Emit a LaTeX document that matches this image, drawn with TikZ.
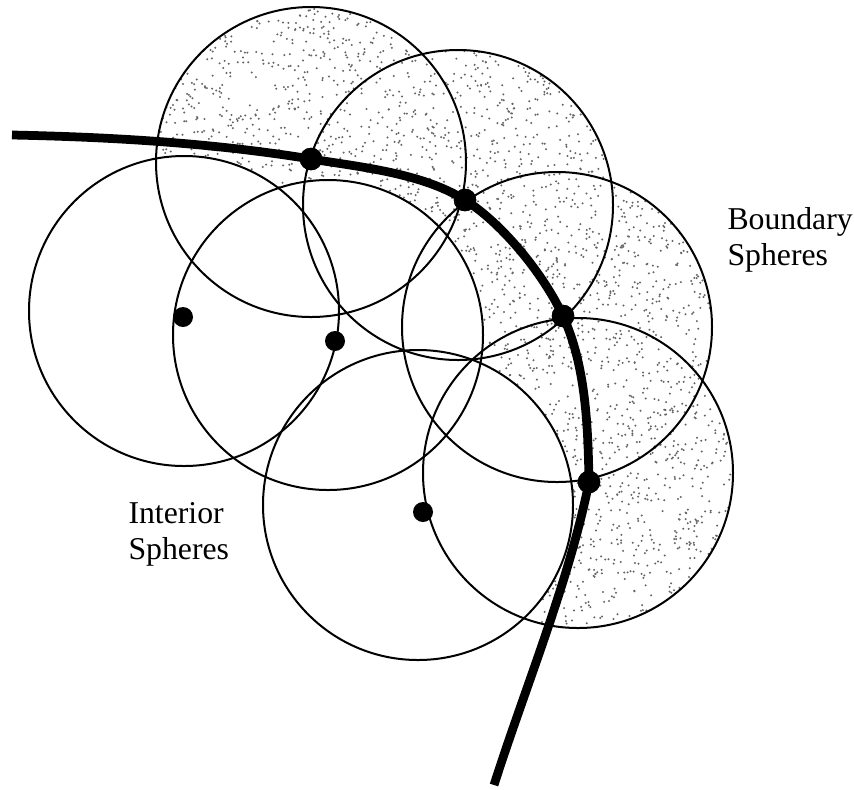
\documentclass[tikz,border=0pt]{standalone}
\usepackage{fontspec}
\setmainfont{Liberation Serif}
\usetikzlibrary{positioning}

\begin{document}
\begin{tikzpicture}[x=0.4pt,y=-0.4pt,
		sphere/.style={draw=black, line width=0.8pt},
		speck/.style={fill=black!60},
		ishade/.style={fill=white},
		centre/.style={circle, fill=black, inner sep=0pt, minimum size=8pt},
		bcentre/.style={centre, minimum size=9pt},
		surface/.style={line width=3.5pt},
		tag/.style={align=left, inner sep=0pt, font=\fontsize{12.7}{14.4}\selectfont}
	]
		\useasboundingbox (0,0) rectangle (854,789);
		% centres of the drawn spheres
		\coordinate (c1) at (311,162);
		\coordinate (c2) at (458,205);
		\coordinate (c3) at (557,327);
		\coordinate (c4) at (578,473);
		\coordinate (ca) at (184,311);
		\coordinate (cb) at (328,335);
		\coordinate (cc) at (418,505);
		% stippled boundary region
		\begin{scope}
			\clip (c1) circle[radius=62pt] (c2) circle[radius=62pt]
				(c3) circle[radius=62pt] (c4) circle[radius=62pt];
			\pgfmathsetseed{4711}
			\foreach \i in {1,...,5000} {
				\fill[speck] (445+290*rand,318+312*rand) circle[radius=0.45pt];
			}
		\end{scope}
		\fill[ishade] (ca) circle[radius=62pt] (cb) circle[radius=62pt]
			(cc) circle[radius=62pt];
		% outlines
		\draw[sphere] (c1) circle[radius=62pt];
		\draw[sphere] (c2) circle[radius=62pt];
		\draw[sphere] (c3) circle[radius=62pt];
		\draw[sphere] (c4) circle[radius=62pt];
		\draw[sphere] (ca) circle[radius=62pt];
		\draw[sphere] (cb) circle[radius=62pt];
		\draw[sphere] (cc) circle[radius=62pt];
		% boundary surface
		\node[bcentre] (b1) at (311,159) {};
		\node[bcentre] (b2) at (465,200) {};
		\node[bcentre] (b3) at (563,316) {};
		\node[bcentre] (b4) at (589,482) {};
		\coordinate (w) at (12,135);
		\coordinate (s) at (494,785);
		\draw[surface] (w) .. controls (112,137) and (212,143) .. (b1.center)
			.. controls (360,167) and (422,173) .. (b2.center)
			.. controls (503,224) and (544,275) .. (b3.center)
			.. controls (586,366) and (588,427) .. (b4.center)
			.. controls (569,582) and (526,685) .. (s);
		\node[bcentre] at (b1) {};
		\node[bcentre] at (b2) {};
		\node[bcentre] at (b3) {};
		\node[bcentre] at (b4) {};
		\node[centre] (ia) at (183,317) {};
		\node[centre] (ib) at (335,341) {};
		\node[centre] (ic) at (423,512) {};
		% labels
		\node[tag, anchor=base west] (bnd) at (727,265) {Boundary\\Spheres};
		\node[tag, anchor=base west] (int) at (128,559) {Interior\\Spheres};
	\end{tikzpicture}
\end{document}
